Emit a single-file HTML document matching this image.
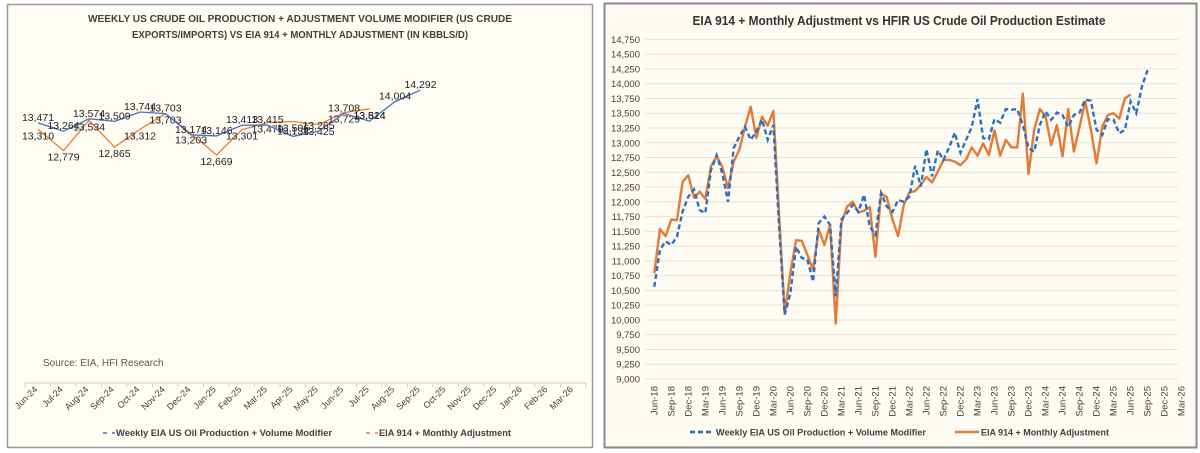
<!DOCTYPE html>
<html><head><meta charset="utf-8"><style>
html,body{margin:0;padding:0;background:#fff;}
svg{display:block;font-family:"Liberation Sans",sans-serif;}
</style></head><body>
<svg id="s" width="1200" height="453" viewBox="0 0 1200 453" xmlns="http://www.w3.org/2000/svg">
<rect x="7.5" y="4.5" width="585" height="443" fill="#fefcf3" stroke="#9a9a9a" stroke-width="1.5"/>
<rect x="604.5" y="3.5" width="592" height="444" fill="#fdfbf2" stroke="#8a8a8a" stroke-width="2"/>
<text x="300" y="22" text-anchor="middle" font-size="10.5" font-weight="bold" fill="#404040" textLength="424" lengthAdjust="spacingAndGlyphs">WEEKLY US CRUDE OIL PRODUCTION + ADJUSTMENT VOLUME MODIFIER (US CRUDE</text>
<text x="300" y="38" text-anchor="middle" font-size="10.5" font-weight="bold" fill="#404040" textLength="336" lengthAdjust="spacingAndGlyphs">EXPORTS/IMPORTS) VS EIA 914 + MONTHLY ADJUSTMENT (IN KBBLS/D)</text>
<text x="43" y="366" font-size="10" fill="#595959">Source: EIA, HFI Research</text>
<text x="899" y="25" text-anchor="middle" font-size="13" font-weight="bold" fill="#333" textLength="413" lengthAdjust="spacingAndGlyphs">EIA 914 + Monthly Adjustment vs HFIR US Crude Oil Production Estimate</text>
<g id="L"></g><g id="R"></g>
<g>
<line x1="103" y1="433" x2="115" y2="433" stroke="#4472c4" stroke-width="1.5" stroke-dasharray="4,5"/>
<text x="116" y="436" font-size="9.5" font-weight="bold" fill="#404040" textLength="216" lengthAdjust="spacingAndGlyphs">Weekly EIA US Oil Production + Volume Modifier</text>
<line x1="366" y1="433" x2="378" y2="433" stroke="#ed7d31" stroke-width="1.5" stroke-dasharray="4,5"/>
<text x="379" y="436" font-size="9.5" font-weight="bold" fill="#404040" textLength="132" lengthAdjust="spacingAndGlyphs">EIA 914 + Monthly Adjustment</text>
</g>
<g>
<line x1="690" y1="432" x2="714" y2="432" stroke="#2e6fc0" stroke-width="2.5" stroke-dasharray="5,3"/>
<text x="716" y="435.5" font-size="9.5" font-weight="bold" fill="#404040" textLength="210" lengthAdjust="spacingAndGlyphs">Weekly EIA US Oil Production + Volume Modifier</text>
<line x1="955" y1="432" x2="979" y2="432" stroke="#e07b39" stroke-width="2.5"/>
<text x="981" y="435.5" font-size="9.5" font-weight="bold" fill="#404040" textLength="128" lengthAdjust="spacingAndGlyphs">EIA 914 + Monthly Adjustment</text>
</g>
</svg>
<script>
// ---- Left chart data ----
const leftCategories=["Jun-24","Jul-24","Aug-24","Sep-24","Oct-24","Nov-24","Dec-24","Jan-25","Feb-25","Mar-25","Apr-25","May-25","Jun-25","Jul-25","Aug-25","Sep-25","Oct-25","Nov-25","Dec-25","Jan-26","Feb-26","Mar-26"];
const leftWeekly=[13471,13264,13574,13509,13744,13703,13174,13146,13413,13415,13134,13265,13708,13514,14004,14292];
const leftEia914=[13310,12779,13534,12865,13312,13703,13203,12669,13301,13479,13506,13425,13729,13824];
// ---- Right chart data ----
const rightYTicks=[9000,9250,9500,9750,10000,10250,10500,10750,11000,11250,11500,11750,12000,12250,12500,12750,13000,13250,13500,13750,14000,14250,14500,14750];
const rightXLabels=["Jun-18","Sep-18","Dec-18","Mar-19","Jun-19","Sep-19","Dec-19","Mar-20","Jun-20","Sep-20","Dec-20","Mar-21","Jun-21","Sep-21","Dec-21","Mar-22","Jun-22","Sep-22","Dec-22","Mar-23","Jun-23","Sep-23","Dec-23","Mar-24","Jun-24","Sep-24","Dec-24","Mar-25","Jun-25","Sep-25","Dec-25","Mar-26"];
const rightWeekly=[10560,11190,11330,11270,11410,11840,12090,12210,11860,11810,12540,12790,12480,12000,12910,13100,13270,13050,13190,13390,13050,13300,11600,10090,10450,11240,11050,11020,10650,11640,11750,11610,10400,11700,11810,11950,11830,12120,11580,11440,12150,11920,11830,12030,12000,12090,12610,12260,12890,12430,12870,12710,12920,13170,12830,13050,13270,13740,13080,13060,13400,13340,13570,13560,13570,13300,12910,12850,13300,13530,13390,13510,13470,13270,13470,13510,13730,13710,13220,13130,13400,13390,13160,13220,13700,13500,13950,14230];
const rightEia914=[10790,11540,11420,11700,11690,12340,12450,12070,12170,12050,12600,12770,12590,12230,12680,12880,13270,13610,13080,13440,13290,13540,11800,10110,10800,11350,11340,11100,10850,11530,11270,11610,9940,11640,11920,12000,11820,11850,11910,11070,12140,12080,11700,11420,11950,12160,12180,12290,12420,12330,12510,12710,12710,12680,12620,12720,12920,12780,12990,12790,13210,12780,13050,12920,12920,13830,12470,13220,13570,13450,12960,13300,12770,13570,12850,13270,13700,13220,12650,13270,13470,13500,13410,13750,13820];

const NS="http://www.w3.org/2000/svg";
function mk(tag,attrs,parent,txt){const e=document.createElementNS(NS,tag);for(const k in attrs)e.setAttribute(k,attrs[k]);if(txt!==undefined)e.textContent=txt;parent.appendChild(e);return e;}
const fmt=v=>v.toLocaleString("en-US");

// Left axes
const L=document.getElementById("L");
const lx=i=>38+25.5*i;
const ly=v=>155-(v-12669)*0.04;
const axisL=mk("line",{x1:25,y1:383,x2:586,y2:383,stroke:"#d0d0d0","stroke-width":1},L);


for(let i=0;i<=leftCategories.length;i++){
  const t=mk("line",{x1:25+25.5*i,y1:383,x2:25+25.5*i,y2:387,stroke:"#d0d0d0"},L);
  
  
}
leftCategories.forEach((c,i)=>{
  const x=lx(i),y=390;
  const t=mk("text",{x:x,y:y,"text-anchor":"end","font-size":"9",fill:"#404040",transform:`rotate(-45 ${x} ${y})`},L,c);
  
  
});
function leftSeries(vals,color,name,dy){
  const p=mk("polyline",{points:vals.map((v,i)=>lx(i)+","+ly(v)).join(" "),fill:"none",stroke:color,"stroke-width":1.3},L);
  
  
  vals.forEach((v,i)=>{
    const t=mk("text",{x:lx(i),y:ly(v)+dy,"text-anchor":"middle","font-size":"10.5",fill:"#222"},L,fmt(v));
    
    
  });
}
leftSeries(leftEia914,"#ed7d31","left-eia914",10);
leftSeries(leftWeekly,"#4472c4","left-weekly",-2);

// Right axes
const R=document.getElementById("R");
const rx=i=>654.3+5.67*i;
const ry=v=>379-(v-9000)*0.05906;
rightYTicks.forEach(v=>{
  const g=mk("line",{x1:645,y1:ry(v),x2:1178,y2:ry(v),stroke:"#e6e3d8","stroke-width":1},R);
  
  
  const t=mk("text",{x:640,y:ry(v)+3.5,"text-anchor":"end","font-size":"9.5",fill:"#404040"},R,fmt(v));
  
  
});
rightXLabels.forEach((c,i)=>{
  const x=rx(i*3)+3,y=386;
  const t=mk("text",{x:x,y:y,"text-anchor":"end","font-size":"9.5",fill:"#404040",transform:`rotate(-90 ${x} ${y})`},R,c);
  
  
});
const po=mk("polyline",{points:rightEia914.map((v,i)=>rx(i)+","+ry(v)).join(" "),fill:"none",stroke:"#e07b39","stroke-width":2.4,"stroke-linejoin":"round"},R);


const pb=mk("polyline",{points:rightWeekly.map((v,i)=>rx(i)+","+ry(v)).join(" "),fill:"none",stroke:"#2e6fc0","stroke-width":2.4,"stroke-dasharray":"5,3"},R);


</script>
</body></html>
